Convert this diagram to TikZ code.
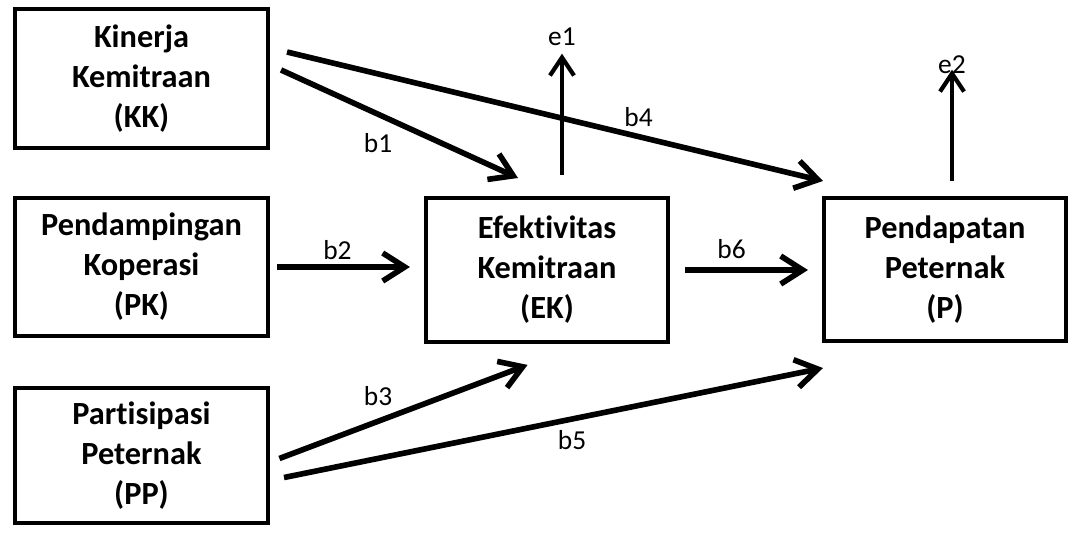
\documentclass[tikz,border=0pt]{standalone}
\usepackage{fontspec}
\setmainfont{Carlito}[Ligatures=NoCommon]
\usetikzlibrary{arrows.meta}

\begin{document}
\begin{tikzpicture}[x=0.025cm, y=-0.025cm,
    box/.style={draw, line width=2.85pt, inner sep=0pt, align=center,
        font=\bfseries\fontsize{23}{28.4}\selectfont},
    link/.style={-{Straight Barb[length=5.5mm,width=7mm]}, line width=4pt},
    err/.style={-{Straight Barb[length=4.5mm,width=6mm]}, line width=3pt},
    lbl/.style={inner sep=0pt, font=\fontsize{19.5}{23}\selectfont}]
    \useasboundingbox (0,0) rectangle (1075,534);

    % variables
    \node[box, minimum width=6.325cm, minimum height=3.475cm] (KK) at (141.5,78.5) {Kinerja\\Kemitraan\\(KK)};
    \node[box, minimum width=6.325cm, minimum height=3.45cm] (PK) at (141.5,267) {Pendampingan\\Koperasi\\(PK)};
    \node[box, minimum width=6.325cm, minimum height=3.375cm] (PP) at (141.5,455.5) {Partisipasi\\Peternak\\(PP)};
    \node[box, minimum width=6.05cm, minimum height=3.6cm] (EK) at (547,270) {Efektivitas\\Kemitraan\\(EK)};
    \node[box, minimum width=6.05cm, minimum height=3.575cm] (P) at (945,269.5) {Pendapatan\\Peternak\\(P)};

    % error terms
    \node[lbl] (e1) at (562,36.5) {e1};
    \node[lbl] (e2) at (952,64.5) {e2};
    \draw[err, shorten <=0.525cm, shorten >=0.2cm] (EK.north -| e1) -- (e1.south);
    \draw[err, shorten <=0.375cm, shorten >=-0.1cm] (P.north -| e2) -- (e2.south);

    % paths
    \draw[link] ([xshift=0.275cm, yshift=0.2125cm]KK.east) -- ([xshift=-0.725cm, yshift=0.45cm]EK.north);
    \draw[link] ([xshift=0.425cm, yshift=0.6625cm]KK.east) -- ([xshift=0.025cm, yshift=0.375cm]P.north west);
    \draw[link, shorten <=0.175cm, shorten >=0.35cm] (PK.east) -- (PK.east -| EK.west);
    \draw[link, shorten <=0.25cm, shorten >=-0.15cm] ([yshift=-0.1625cm]PP.east) -- ([xshift=-0.625cm, yshift=-0.575cm]EK.south);
    \draw[link] ([xshift=0.35cm, yshift=-0.55cm]PP.east) -- ([xshift=0.025cm, yshift=-0.625cm]P.south west);
    \draw[link, shorten <=0.375cm, shorten >=0.35cm] (EK.east) -- (EK.east -| P.west);

    % coefficients
    \node[lbl] (lb1) at (378,143) {b1};
    \node[lbl] (lb2) at (337.5,250) {b2};
    \node[lbl] (lb3) at (378,396.5) {b3};
    \node[lbl] (lb4) at (638.5,117) {b4};
    \node[lbl] (lb5) at (572,440) {b5};
    \node[lbl] (lb6) at (731.5,249.5) {b6};
\end{tikzpicture}
\end{document}
